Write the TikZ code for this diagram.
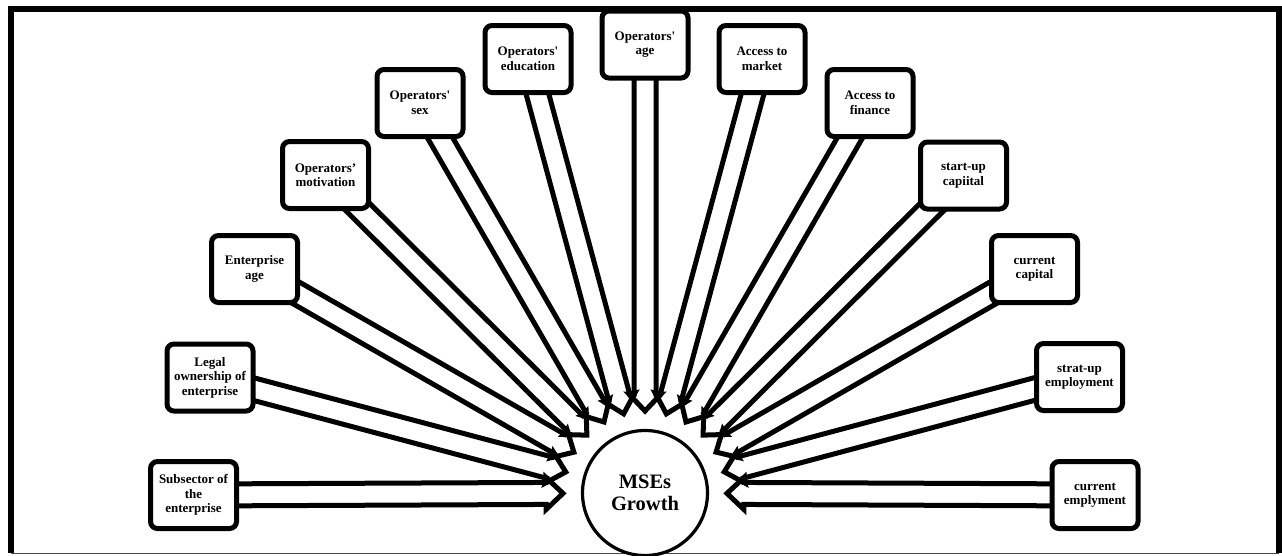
\documentclass[tikz,border=0pt]{standalone}
\usepackage{fontspec}
\newfontfamily\boxfont{Liberation Serif}
\usetikzlibrary{calc,backgrounds}
\tikzset{
  factor/.style={draw, line width=5pt, rounded corners=7pt, fill=white,
    minimum width=86pt, minimum height=67pt, inner sep=0pt, align=center,
    font=\boxfont\bfseries\fontsize{13}{14.5}\selectfont},
  hub/.style={draw, circle, line width=3.2pt, fill=white, minimum size=125pt,
    inner sep=0pt, align=center,
    font=\boxfont\bfseries\fontsize{20.5}{22}\selectfont},
  arr/.style={line width=5pt, line join=miter},
  frameline/.style={line width=6pt, line join=miter},
}
\newcommand\blockarrow[2]{%
  \coordinate (H) at ($(#2)!17pt!(#1)$);
  \draw[arr] ($(#1)!11pt!90:(#2)$) -- ($(H)!11pt!-90:(#1)$) -- ($(H)!16pt!-90:(#1)$)
    -- (#2) -- ($(H)!16pt!90:(#1)$) -- ($(H)!11pt!90:(#1)$) -- ($(#1)!11pt!-90:(#2)$);
}
\begin{document}
\begin{tikzpicture}[x=1pt,y=-1pt]
\useasboundingbox (0,0) rectangle (1282,555);
% hub
\node[hub] (C) at (645,493) {MSEs\\Growth};
% factors
\node[factor] (b1) at (193.5,495) {Subsector of\\the\\enterprise};
\node[factor] (b2) at (210,377.5) {Legal\\ownership of\\enterprise};
\node[factor] (b3) at (254.5,269) {Enterprise\\age};
\node[factor] (b4) at (325.5,175) {Operators’\\motivation};
\node[factor] (b5) at (420,103) {Operators'\\sex};
\node[factor] (b6) at (528,59) {Operators'\\education};
\node[factor] (b7) at (645,44.5) {Operators'\\age};
\node[factor] (b8) at (762,59) {Access to\\market};
\node[factor] (b9) at (870,103) {Access to\\finance};
\node[factor] (b10) at (963.5,175.5) {start-up\\capiital};
\node[factor] (b11) at (1034.5,269) {current\\capital};
\node[factor] (b12) at (1079.5,377) {strat-up\\employment};
\node[factor] (b13) at (1095,495) {current\\emplyment};
\begin{pgfonlayer}{background}
  \draw[frameline] (11,553) -- (11,9) -- (1278.5,9) -- (1278.5,553);
  \draw[gray!60!black, line width=1.5pt] (11,553.5) -- (1278.5,553.5);
  \foreach \i in {1,...,13}{
    \coordinate (t\i) at ($(C)!82pt!(b\i)$);
    \blockarrow{b\i}{t\i}
  }
\end{pgfonlayer}
\end{tikzpicture}
\end{document}
